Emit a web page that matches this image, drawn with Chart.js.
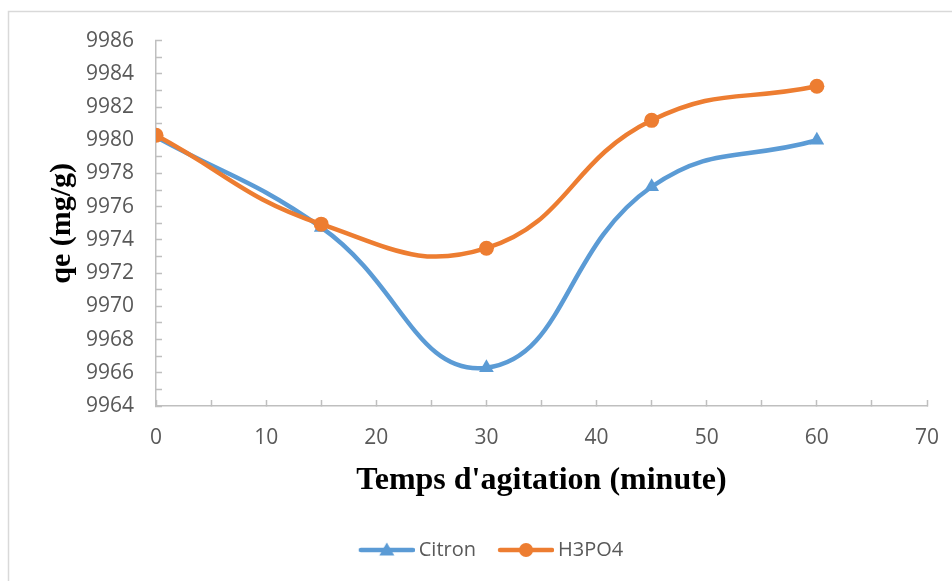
<!DOCTYPE html>
<html>
<head>
<meta charset="utf-8">
<script src="https://cdn.jsdelivr.net/npm/chart.js@4/dist/chart.umd.min.js"></script>
<style>
  html, body { margin: 0; padding: 0; background: #ffffff; }
  #wrap { width: 952px; height: 581px; position: relative; }
</style>
</head>
<body>
<div id="wrap"><canvas id="chart" width="952" height="581"></canvas></div>
<script>
// Agitation time (minutes) and adsorbed quantity qe (mg/g)
const temps = [0, 15, 30, 45, 60];
const citron = [9980.2, 9974.75, 9966.3, 9977.2, 9980.0];
const h3po4 = [9980.3, 9974.95, 9973.5, 9981.2, 9983.25];
const seriesNames = ['Citron', 'H3PO4'];
const yLabelTicks = [9964, 9966, 9968, 9970, 9972, 9974, 9976, 9978, 9980, 9982, 9984, 9986];
const xLabelTicks = [0, 10, 20, 30, 40, 50, 60, 70];

const BLUE = '#5B9BD5';
const ORANGE = '#ED7D31';
const AXIS = '#BFBFBF';
const TEXT = '#595959';

// legend swatch: short line with the series marker in the middle
function swatch(color, shape) {
  const c = document.createElement('canvas');
  c.width = 68; c.height = 18;
  const g = c.getContext('2d');
  g.strokeStyle = color; g.lineWidth = 4.5; g.lineCap = 'round';
  g.beginPath(); g.moveTo(14, 9); g.lineTo(66, 9); g.stroke();
  g.fillStyle = color;
  const cx = 40;
  if (shape === 'triangle') {
    g.beginPath(); g.moveTo(cx, 1.5); g.lineTo(cx + 7.5, 14.5); g.lineTo(cx - 7.5, 14.5); g.closePath(); g.fill();
  } else {
    g.beginPath(); g.arc(cx, 9, 7, 0, Math.PI * 2); g.fill();
  }
  return c;
}
const legendIcons = [swatch(BLUE, 'triangle'), swatch(ORANGE, 'circle')];

// outer frame of the chart object
const framePlugin = {
  id: 'frame',
  beforeDraw(chart) {
    const ctx = chart.ctx;
    ctx.save();
    ctx.fillStyle = '#ffffff';
    ctx.fillRect(0, 0, chart.width, chart.height);
    ctx.strokeStyle = '#D9D9D9';
    ctx.lineWidth = 1.5;
    ctx.strokeRect(8.5, 11.5, chart.width + 20, chart.height + 20);
    ctx.restore();
  }
};

new Chart(document.getElementById('chart'), {
  type: 'line',
  data: {
    datasets: [
      {
        label: seriesNames[0],
        data: temps.map((t, i) => ({ x: t, y: citron[i] })),
        borderColor: BLUE, backgroundColor: BLUE,
        borderWidth: 4.5, tension: 0.45,
        pointStyle: 'triangle', pointRadius: 8.5, pointHoverRadius: 8.5,
        pointBorderWidth: 0, order: 1
      },
      {
        label: seriesNames[1],
        data: temps.map((t, i) => ({ x: t, y: h3po4[i] })),
        borderColor: ORANGE, backgroundColor: ORANGE,
        borderWidth: 4.5, tension: 0.45,
        pointStyle: 'circle', pointRadius: 7.5, pointHoverRadius: 7.5,
        pointBorderWidth: 0, order: 0
      }
    ]
  },
  options: {
    responsive: false,
    animation: false,
    events: [],
    layout: { padding: { top: 29, right: 25, bottom: 11, left: 49 } },
    scales: {
      x: {
        type: 'linear', min: 0, max: 70,
        afterBuildTicks(scale) {
          const t = [];
          for (let v = 0; v <= 70; v += 5) t.push({ value: v });
          scale.ticks = t;
        },
        afterFit(scale) {
          scale.height = 118;
          scale.paddingLeft = 0;
          scale.paddingRight = 0;
        },
        grid: { drawOnChartArea: false, drawTicks: true, tickLength: -6, tickColor: AXIS, tickWidth: 1.5 },
        border: { display: true, color: AXIS, width: 1.5 },
        ticks: {
          autoSkip: false, maxRotation: 0, padding: 25, color: TEXT,
          font: { family: 'Open Sans', size: 21 },
          callback: v => xLabelTicks.includes(v) ? String(v) : ''
        },
        title: {
          display: true, text: "Temps d'agitation (minute)", color: '#000000',
          font: { family: 'Liberation Serif', size: 32, weight: 'bold' },
          padding: { top: 4, bottom: 24 }
        }
      },
      y: {
        type: 'linear', min: 9964, max: 9986,
        afterBuildTicks(scale) {
          const t = [];
          for (let v = 9964; v <= 9986; v += 1) t.push({ value: v });
          scale.ticks = t;
        },
        afterFit(scale) { scale.width = 107; },
        grid: { drawOnChartArea: false, drawTicks: true, tickLength: -6, tickColor: AXIS, tickWidth: 1.5 },
        border: { display: true, color: AXIS, width: 1.5 },
        ticks: {
          autoSkip: false, padding: 28, color: TEXT,
          font: { family: 'Open Sans', size: 21 },
          callback: v => yLabelTicks.includes(v) ? String(v) : ''
        },
        title: {
          display: true, text: 'qe (mg/g)', color: '#000000',
          font: { family: 'Liberation Serif', size: 30, weight: 'bold' },
          padding: { top: -5, bottom: 0 }
        }
      }
    },
    plugins: {
      tooltip: { enabled: false },
      legend: {
        position: 'bottom',
        labels: {
          usePointStyle: true,
          pointStyleWidth: 56,
          boxHeight: 18,
          padding: 16,
          color: TEXT,
          font: { family: 'Open Sans', size: 20 },
          sort: (a, b) => a.datasetIndex - b.datasetIndex,
          generateLabels(chart) {
            const items = Chart.defaults.plugins.legend.labels.generateLabels(chart);
            items.forEach(it => { it.pointStyle = legendIcons[it.datasetIndex]; });
            return items;
          }
        }
      }
    }
  },
  plugins: [framePlugin]
});
</script>
</body>
</html>
